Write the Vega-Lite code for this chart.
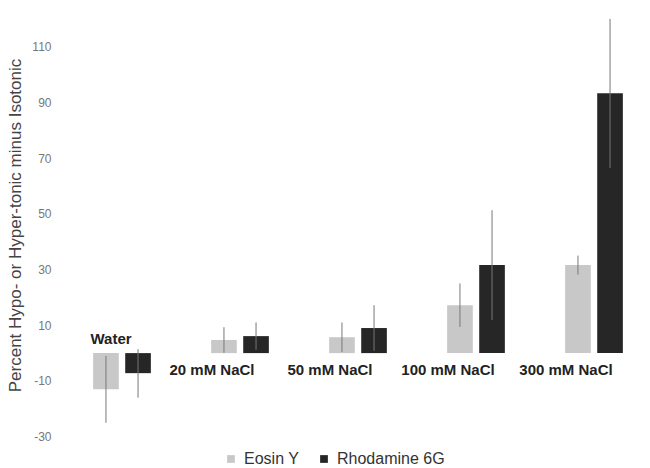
{
  "$schema": "https://vega.github.io/schema/vega-lite/v6.json",
  "width": 590,
  "height": 440,
  "autosize": {"type": "none"},
  "padding": {"left": 63, "top": 5, "right": 0, "bottom": 23},
  "background": "white",
  "config": {"view": {"stroke": null}, "font": "Liberation Sans"},
  "data": {
    "values": [
      {"category": "Water", "dye": "Eosin Y", "value": -13, "lo": -25, "hi": -1},
      {"category": "Water", "dye": "Rhodamine 6G", "value": -7.2, "lo": -16, "hi": 1.4},
      {"category": "20 mM NaCl", "dye": "Eosin Y", "value": 4.7, "lo": 0.1, "hi": 9.3},
      {"category": "20 mM NaCl", "dye": "Rhodamine 6G", "value": 6.1, "lo": 1.2, "hi": 11},
      {"category": "50 mM NaCl", "dye": "Eosin Y", "value": 5.7, "lo": 0.4, "hi": 11},
      {"category": "50 mM NaCl", "dye": "Rhodamine 6G", "value": 9, "lo": 0.8, "hi": 17.2},
      {"category": "100 mM NaCl", "dye": "Eosin Y", "value": 17.2, "lo": 9.4, "hi": 25},
      {"category": "100 mM NaCl", "dye": "Rhodamine 6G", "value": 31.6, "lo": 11.9, "hi": 51.3},
      {"category": "300 mM NaCl", "dye": "Eosin Y", "value": 31.6, "lo": 28.2, "hi": 35},
      {"category": "300 mM NaCl", "dye": "Rhodamine 6G", "value": 93.3, "lo": 66.5, "hi": 120}
    ]
  },
  "encoding": {
    "x": {
      "field": "category",
      "type": "nominal",
      "sort": ["Water", "20 mM NaCl", "50 mM NaCl", "100 mM NaCl", "300 mM NaCl"],
      "scale": {"paddingInner": 0, "paddingOuter": 0},
      "axis": null
    }
  },
  "layer": [
    {
      "mark": {"type": "bar"},
      "encoding": {
        "xOffset": {"field": "dye", "type": "nominal", "scale": {"paddingInner": 0.2, "paddingOuter": 0.94}},
        "y": {
          "field": "value",
          "type": "quantitative",
          "scale": {"domain": [-33, 125], "nice": false, "zero": false},
          "axis": {
            "values": [-30, -10, 10, 30, 50, 70, 90, 110],
            "labelExpr": "datum.value < 0 ? '-' + abs(datum.value) : '' + datum.value",
            "title": "Percent Hypo- or Hyper-tonic minus Isotonic",
            "titleFontSize": 17,
            "titleFontWeight": "normal",
            "titleColor": "#444444",
            "titlePadding": 7,
            "labelFontSize": 12,
            "labelColor": "#777777",
            "labelPadding": 12,
            "domain": false,
            "ticks": false,
            "grid": false
          }
        },
        "color": {
          "field": "dye",
          "type": "nominal",
          "scale": {"domain": ["Eosin Y", "Rhodamine 6G"], "range": ["#c8c8c8", "#262626"]},
          "legend": {
            "title": null,
            "orient": "none",
            "legendX": 160,
            "legendY": 446,
            "direction": "horizontal",
            "symbolType": "square",
            "symbolSize": 60,
            "labelFontSize": 16,
            "labelColor": "#333333",
            "labelOffset": 5,
            "columnPadding": 16
          }
        }
      }
    },
    {
      "mark": {"type": "rule", "color": "#777777", "strokeWidth": 1},
      "encoding": {
        "xOffset": {"field": "dye", "type": "nominal"},
        "y": {"field": "lo", "type": "quantitative"},
        "y2": {"field": "hi"}
      }
    },
    {
      "transform": [{"filter": "datum.dye === 'Eosin Y' && datum.category !== 'Water'"}],
      "mark": {"type": "text", "fontWeight": "bold", "fontSize": 15, "color": "#222222", "baseline": "middle", "dy": 17, "dx": -28},
      "encoding": {
        "y": {"datum": 0},
        "text": {"field": "category"}
      }
    },
    {
      "transform": [{"filter": "datum.dye === 'Eosin Y' && datum.category === 'Water'"}],
      "mark": {"type": "text", "fontWeight": "bold", "fontSize": 15, "color": "#222222", "baseline": "middle", "dy": -14, "dx": -11},
      "encoding": {
        "y": {"datum": 0},
        "text": {"field": "category"}
      }
    }
  ]
}
